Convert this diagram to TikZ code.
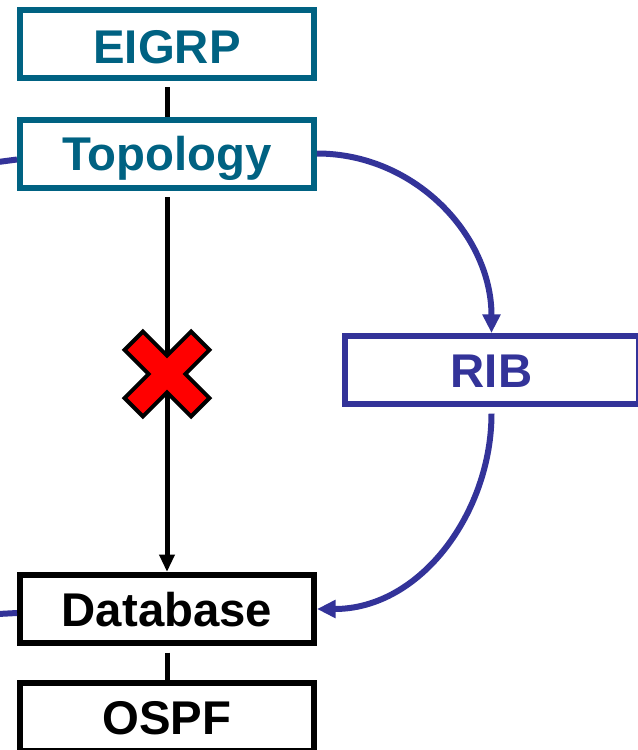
\documentclass[tikz,border=0pt]{standalone}
\usepackage{fontspec}
\setmainfont{Liberation Sans}
\usetikzlibrary{arrows.meta}
\definecolor{eigrpteal}{RGB}{0,98,130}
\definecolor{ribblue}{RGB}{51,51,153}
\definecolor{xred}{RGB}{255,0,0}

\begin{document}
\begin{tikzpicture}[x=0.75pt,y=0.75pt,
    box/.style={draw, line width=4.5pt, fill=white, minimum width=220.5pt, minimum height=51pt,
        inner sep=0pt, font=\fontsize{35.5}{40}\selectfont\bfseries, text height=25.5pt, text depth=0pt},
    tealbox/.style={box, draw=eigrpteal, text=eigrpteal},
    ribbox/.style={box, draw=ribblue, text=ribblue},
    blackbox/.style={box, draw=black},
    link/.style={line width=3.75pt},
    ribpath/.style={line width=4.5pt, draw=ribblue, -{Triangle[length=14pt,width=13pt]}}]

    \fill[white] (0,0) rectangle (637,-750);
    \useasboundingbox (0,0) rectangle (637,-750);

    % Protocols and their tables
    \node[tealbox, text height=30pt] (eigrp) at (167,-43.5) {EIGRP};
    \node[tealbox] (topo) at (167,-153.5) {Topology};
    \node[ribbox] (rib) at (491.5,-370) {RIB};
    \node[blackbox] (db) at (167,-609) {Database};
    \node[blackbox] (ospf) at (167,-717) {OSPF};

    % Vertical links
    \draw[link, shorten <=5pt] (eigrp) -- (topo);
    \draw[link, shorten <=5pt, -{Triangle[length=13pt,width=11pt]}] (topo) -- (db);
    \draw[link, shorten <=5pt] (db) -- (ospf);

    % Redistribution through the RIB
    \draw[ribpath] (topo.east) to[out=0,in=90] (rib.north);
    \draw[ribpath, shorten <=5pt] (rib.south) to[out=-90,in=0] (db.east);

    % Links coming in from the left
    \coordinate (topoin) at (-2,-162);
    \coordinate (dbin) at (-2,-614);
    \draw[line width=4.5pt, ribblue] (topoin) -- ([yshift=-4.5pt]topo.west);
    \draw[line width=4.5pt, ribblue] (dbin) -- ([yshift=-3pt]db.west);

    % Red cross on the direct path
    \begin{scope}[shift={(167,-374)}, rotate=45]
        \draw[line width=3pt, fill=xred, line join=miter]
            (-13,47) -- (13,47) -- (13,13) -- (47,13) -- (47,-13) -- (13,-13) --
            (13,-47) -- (-13,-47) -- (-13,-13) -- (-47,-13) -- (-47,13) -- (-13,13) -- cycle;
    \end{scope}
\end{tikzpicture}
\end{document}
